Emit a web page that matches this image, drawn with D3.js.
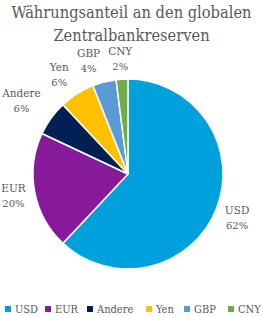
<!DOCTYPE html>
<html>
<head>
<meta charset="utf-8">
<script src="https://cdn.jsdelivr.net/npm/d3@7"></script>
<style>
  body { margin: 0; background: #fff; }
  svg text { font-family: "DejaVu Serif Condensed", "DejaVu Serif", serif; fill: #595959; }
</style>
</head>
<body>
<div id="chart"></div>
<script>
const titleLines = ["Währungsanteil an den globalen", "Zentralbankreserven"];
const currencies = ["USD", "EUR", "Andere", "Yen", "GBP", "CNY"];
const shares = [62, 20, 6, 6, 4, 2];
const colors = ["#00a0dc", "#871a9a", "#002055", "#ffc000", "#5b9bd5", "#70ad47"];

const width = 263, height = 317;
const cx = 128, cy = 174, radius = 95;

const data = currencies.map((c, i) => ({name: c, value: shares[i]}));

const svg = d3.select("#chart").append("svg")
    .attr("width", width)
    .attr("height", height);

// title
svg.append("text")
    .attr("text-anchor", "middle")
    .attr("font-size", 16.3)
    .selectAll("tspan")
    .data(titleLines)
    .join("tspan")
    .attr("x", width / 2)
    .attr("y", (d, i) => 17.5 + i * 23)
    .text(d => d);

const color = d3.scaleOrdinal().domain(currencies).range(colors);

const pie = d3.pie().sort(null).value(d => d.value);
const arc = d3.arc().innerRadius(0).outerRadius(radius);

const g = svg.append("g").attr("transform", `translate(${cx},${cy})`);

const arcs = pie(data);

g.selectAll("path")
    .data(arcs)
    .join("path")
    .attr("d", arc)
    .attr("fill", d => color(d.data.name))
    .attr("stroke", "#fff")
    .attr("stroke-width", 1.5);

const labels = g.selectAll("text.lbl")
    .data(arcs)
    .join("text")
    .attr("class", "lbl")
    .attr("text-anchor", "middle")
    .attr("font-size", 10.5)
    .style("font-family", "'DejaVu Serif', serif");

labels.append("tspan")
    .attr("x", 0)
    .attr("y", -3)
    .text(d => d.data.name);

labels.append("tspan")
    .attr("x", 0)
    .attr("y", 12)
    .attr("font-size", 10)
    .text(d => d.data.value + "%");

// place each label box just outside the slice ("outside end")
const gap = radius + 6;
const boxes = [];
labels.each(function(d) {
    const b = this.getBBox();
    const a = (d.startAngle + d.endAngle) / 2;
    const dx = Math.sin(a), dy = -Math.cos(a);
    const ext = Math.abs(dx) * b.width / 2 + Math.abs(dy) * b.height / 2;
    const r = gap + ext;
    boxes.push({
        x: dx * r, y: dy * r, w: b.width, h: b.height,
        ox: b.x + b.width / 2, oy: b.y + b.height / 2
    });
});

// push small neighbouring labels apart (working back from the last slice)
for (let i = boxes.length - 2; i >= 0; i--) {
    const a = boxes[i], b = boxes[i + 1];
    const vOverlap = Math.abs(a.y - b.y) < (a.h + b.h) / 2;
    const need = (a.w + b.w) / 2 + 8;
    if (vOverlap && a.x < b.x && b.x - a.x < need) a.x = b.x - need;
}

labels.attr("transform", (d, i) => {
    const bx = boxes[i];
    return `translate(${bx.x - bx.ox},${bx.y - bx.oy})`;
});

// legend
const legendX = [5, 45, 87, 146, 184, 228];
const legend = svg.append("g").attr("transform", "translate(0,309)");
const items = legend.selectAll("g")
    .data(currencies)
    .join("g")
    .attr("transform", (d, i) => `translate(${legendX[i]},0)`);

items.append("rect")
    .attr("x", 0)
    .attr("y", -3)
    .attr("width", 6)
    .attr("height", 6)
    .attr("fill", d => color(d));

items.append("text")
    .attr("x", 10)
    .attr("y", 4)
    .attr("font-size", 11)
    .text(d => d);
</script>
</body>
</html>
